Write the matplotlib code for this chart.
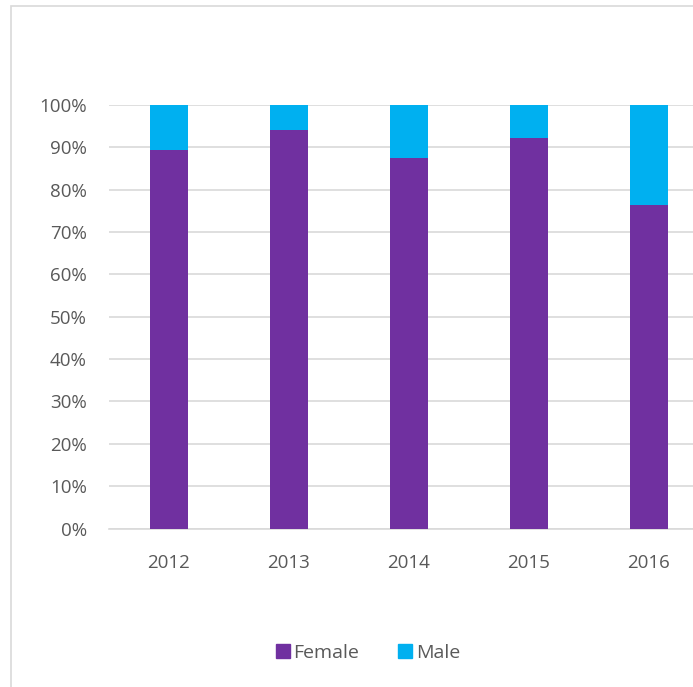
import matplotlib
matplotlib.use("Agg")
import matplotlib.pyplot as plt
from matplotlib.patches import Rectangle
import numpy as np

years = ["2012", "2013", "2014", "2015", "2016"]
female = [89.4, 94.0, 87.5, 92.2, 76.3]
male = [10.6, 6.0, 12.5, 7.8, 23.7]
yticks = [0, 10, 20, 30, 40, 50, 60, 70, 80, 90, 100]
ytick_labels = [f"{v}%" for v in yticks]

W, H = 693, 687
fig = plt.figure(figsize=(W / 100, H / 100), dpi=100)
plt.rcParams['font.family'] = ['Open Sans', 'DejaVu Sans']

# chart border
fig.patches.append(Rectangle((11 / W, 0 - 0.01), 1.0, (H - 6) / H + 0.01, transform=fig.transFigure,
                             fill=False, edgecolor="#D9D9D9", linewidth=1.2))

left, right = 109, 709
top, bottom = 105, 528.5
ax = fig.add_axes([left / W, 1 - bottom / H, (right - left) / W, (bottom - top) / H])
ax.set_clip_on(False)

x = np.arange(len(years))
fc = "#7030A0"
mc = "#00B0F0"
ax.bar(x, female, width=0.31, color=fc, label="Female", zorder=3)
ax.bar(x, male, width=0.31, bottom=female, color=mc, label="Male", zorder=3)

ax.set_xlim(-0.5, len(years) - 0.5)
ax.set_ylim(0, 100)
ax.set_yticks(yticks)
ax.set_yticklabels(ytick_labels)
ax.set_xticks(x)
ax.set_xticklabels(years)
ax.grid(axis="y", color="#D9D9D9", linewidth=1.2, zorder=0)
ax.set_axisbelow(True)
for s in ["top", "right", "left"]:
    ax.spines[s].set_visible(False)
ax.spines["bottom"].set_color("#D9D9D9")
ax.spines["bottom"].set_linewidth(1.2)
ax.tick_params(axis="both", length=0, colors="#595959", labelsize=13.5)
ax.tick_params(axis="y", pad=16)
ax.tick_params(axis="x", pad=18)

handles = [Rectangle((0, 0), 1, 1, color=fc), Rectangle((0, 0), 1, 1, color=mc)]
leg = fig.legend(handles, ["Female", "Male"], loc="center", bbox_to_anchor=(368 / W, 1 - 653 / H),
                 ncol=2, frameon=False, fontsize=14, handlelength=0.7, handleheight=0.7,
                 handletextpad=0.2, columnspacing=2.0, labelcolor="#595959")

fig.savefig("out.png", dpi=100)
